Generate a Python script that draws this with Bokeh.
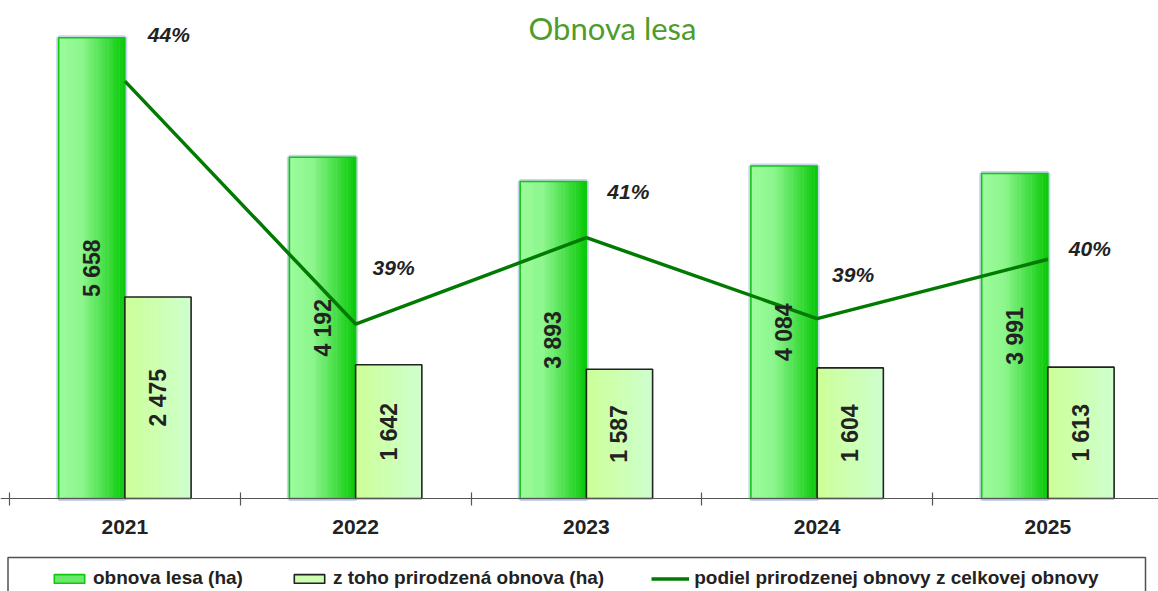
import numpy as np
from bokeh.plotting import figure
from bokeh.models import (Range1d, LinearAxis, FixedTicker, Legend, LegendItem,
                          BoxAnnotation, Label)
from bokeh.core.properties import value
from bokeh.embed import file_html
from bokeh.resources import INLINE

# ---------------- data ----------------
years = ["2021", "2022", "2023", "2024", "2025"]
obnova = [5658, 4192, 3893, 4084, 3991]          # obnova lesa (ha)
prirodzena = [2475, 1642, 1587, 1604, 1613]      # z toho prirodzená obnova (ha)
podiel = [0.437, 0.392, 0.408, 0.393, 0.404]     # podiel prirodzenej obnovy

# label offsets for percentage labels (screen px, right / up)
pct_dx = [44, 38, 42, 36, 42]
pct_dy = [47, 57, 46, 44, 11]

FONT = "Liberation Sans"
TXT = "#222222"

n = len(years)
idx = np.arange(n)
centers = idx + 0.5
BW = 0.287  # bar width in category units

p = figure(width=1158, height=591, output_backend="svg", toolbar_location=None,
           x_axis_location=None, y_axis_location=None,
           x_range=Range1d(-0.039, 4.9794), y_range=Range1d(-1142.2, 6116.4),
           min_border=0, outline_line_color=None,
           background_fill_color="white", border_fill_color="white")
p.extra_y_ranges = {"pct": Range1d(0.34245, 0.45194)}
p.grid.visible = False


def lerp_stops(stops, t):
    for (t0, c0), (t1, c1) in zip(stops[:-1], stops[1:]):
        if t0 <= t <= t1:
            f = (t - t0) / (t1 - t0) if t1 > t0 else 0
            c = [int(round(a + (b - a) * f)) for a, b in zip(c0, c1)]
            return "#%02x%02x%02x" % tuple(c)
    return "#%02x%02x%02x" % tuple(stops[-1][1])


def gradient_bars(xc, tops, stops, nstrip=24):
    rs = []
    left0 = xc - BW / 2
    w = BW / nstrip
    for j in range(nstrip):
        col = lerp_stops(stops, (j + 0.5) / nstrip)
        l = left0 + j * w
        r = left0 + (j + 1) * w + (0.002 if j < nstrip - 1 else 0)
        rs.append(p.quad(left=l, right=r, bottom=0, top=tops,
                         fill_color=col, line_color=None))
    return rs


x1 = centers - BW / 2
x2 = centers + BW / 2

# series 1: obnova lesa
p.vbar(x=x1, width=BW, top=obnova, bottom=0, fill_color=None,
       line_color="#c9d5ef", line_width=5)
stops1 = [(0.0, (155, 252, 155)), (0.35, (140, 246, 140)), (0.7, (70, 222, 70)), (1.0, (5, 200, 5))]
strips1 = gradient_bars(x1, obnova, stops1)
out1 = p.vbar(x=x1, width=BW, top=obnova, bottom=0, fill_color=None,
              line_color="#10c810", line_width=1.6)

# series 2: prirodzena
stops2 = [(0.0, (204, 255, 150)), (1.0, (206, 255, 206))]
strips2 = gradient_bars(x2, prirodzena, stops2)
out2 = p.vbar(x=x2, width=BW, top=prirodzena, bottom=0, fill_color=None,
              line_color="#222222", line_width=1.6)

# line on secondary axis
line_r = p.line(x=centers, y=podiel, y_range_name="pct",
                line_color="#007a00", line_width=3.5)

# value labels inside bars
fmt = lambda v: f"{v:,}".replace(",", " ")
p.text(x=x1, y=[v / 2 for v in obnova], text=[fmt(v) for v in obnova],
       angle=np.pi / 2, text_align="center", text_baseline="middle",
       text_font=value(FONT), text_font_style="bold", text_font_size="23px",
       text_color=TXT)
p.text(x=x2, y=[v / 2 for v in prirodzena], text=[fmt(v) for v in prirodzena],
       angle=np.pi / 2, text_align="center", text_baseline="middle",
       text_font=value(FONT), text_font_style="bold", text_font_size="23px",
       text_color=TXT)

# percentage labels
p.text(x=centers, y=podiel, y_range_name="pct",
       text=[f"{round(v * 100)}%" for v in podiel],
       x_offset=pct_dx, y_offset=[-d for d in pct_dy],
       text_align="center", text_baseline="middle",
       text_font=value(FONT), text_font_style="bold italic", text_font_size="21px",
       text_color=TXT)

# x axis at zero
ax = LinearAxis(fixed_location=0,
                ticker=FixedTicker(ticks=list(centers), minor_ticks=list(np.arange(n + 1))),
                major_label_overrides={float(c): y for c, y in zip(centers, years)},
                axis_line_color="#555555", axis_line_width=1.2,
                major_tick_line_color=None, major_tick_in=0, major_tick_out=0,
                minor_tick_line_color="#555555", minor_tick_line_width=1.2,
                minor_tick_in=6, minor_tick_out=7,
                major_label_standoff=14,
                major_label_text_font=FONT, major_label_text_font_style="bold",
                major_label_text_font_size="21px", major_label_text_color=TXT)
p.add_layout(ax, "below")

# title
p.add_layout(Label(x=612, y=564, x_units="screen", y_units="screen",
                   text="Obnova lesa", text_align="center", text_baseline="middle",
                   text_font="Lato", text_font_size="31px", text_color="#4e9c2c"))

# legend box
p.add_layout(BoxAnnotation(left=7.5, right=1145, top=34, bottom=-10,
                           left_units="screen", right_units="screen",
                           top_units="screen", bottom_units="screen",
                           fill_alpha=0, line_color="#505050", line_alpha=1.0,
                           line_width=1.5))

legend = Legend(items=[
    LegendItem(label="obnova lesa (ha)", renderers=[strips1[12], out1]),
    LegendItem(label="z toho prirodzená obnova (ha)", renderers=[strips2[12], out2]),
    LegendItem(label="podiel prirodzenej obnovy z celkovej obnovy", renderers=[line_r]),
], location=(50, 2), orientation="horizontal", border_line_color=None,
    background_fill_alpha=0, padding=0, margin=0, spacing=47,
    glyph_width=38, glyph_height=11, label_standoff=5,
    label_text_font=FONT, label_text_font_style="bold", label_text_font_size="19px",
    label_text_color=TXT)
p.add_layout(legend, "center")

open("out.html", "w").write(file_html(p, INLINE))
